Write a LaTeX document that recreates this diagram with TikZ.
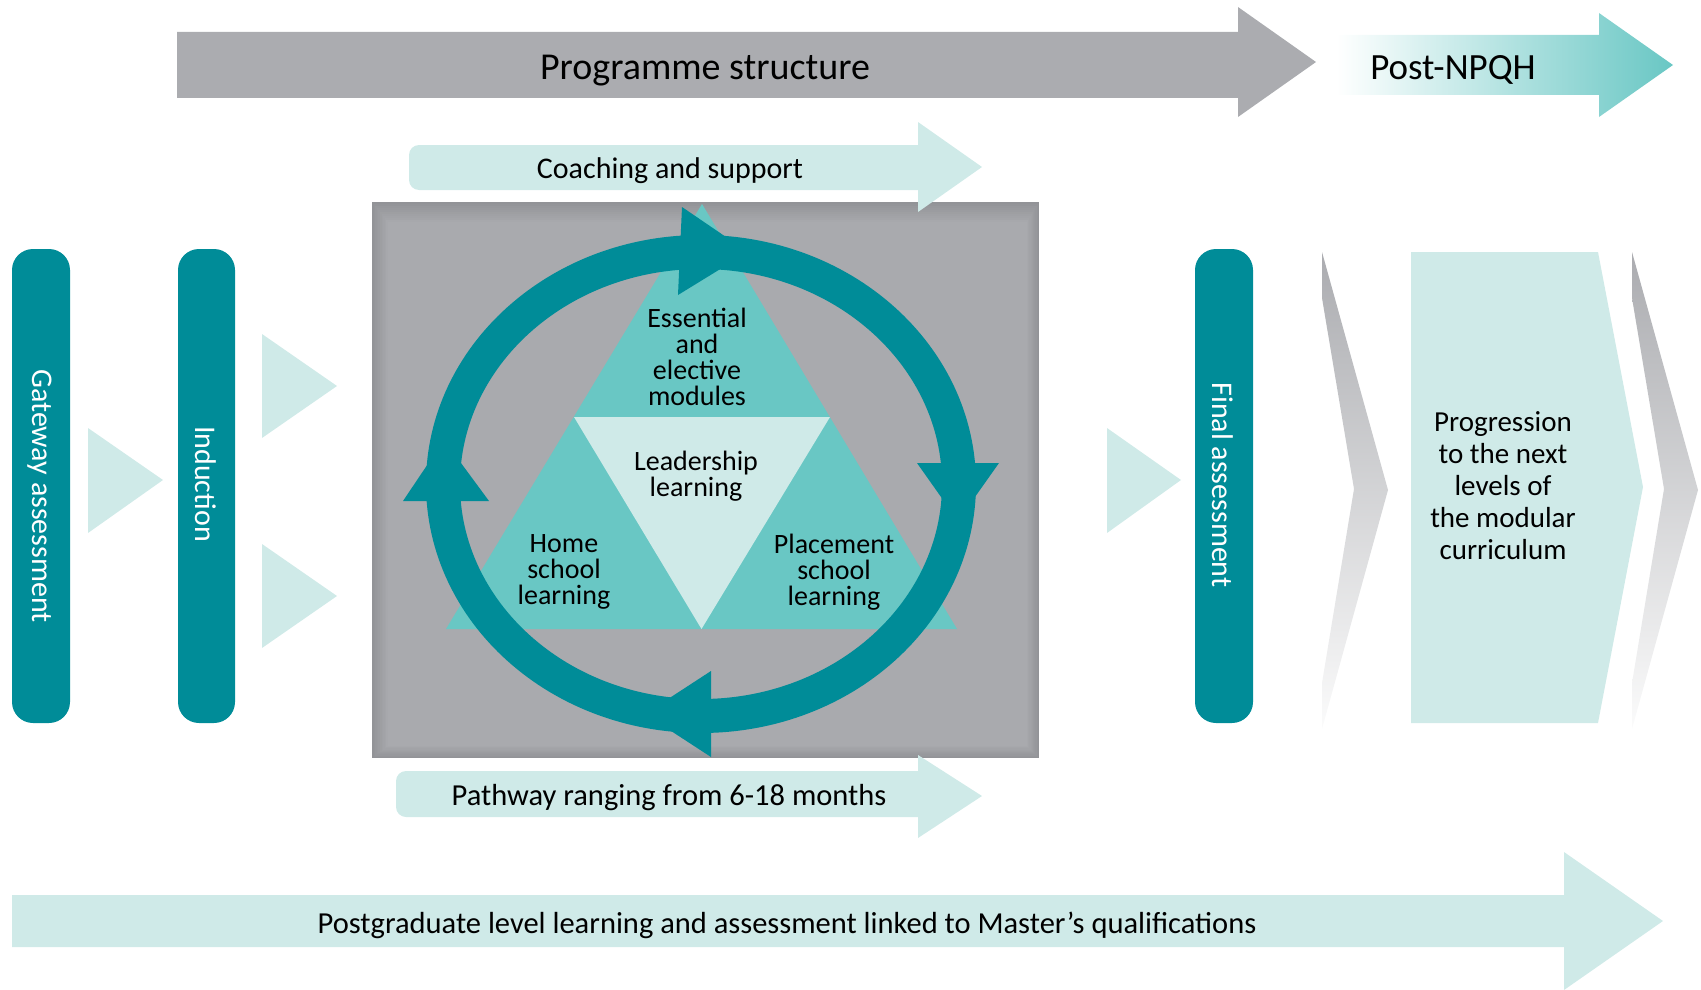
\documentclass[tikz,border=0pt]{standalone}
\usepackage{fontspec}
\setmainfont{Carlito}
\definecolor{tealD}{HTML}{008C98}
\definecolor{tealM}{HTML}{69C7C4}
\definecolor{tealL}{HTML}{CFEAE8}
\definecolor{grayA}{HTML}{ABACB0}
\definecolor{grayB}{HTML}{A9AAAE}
\definecolor{grayE}{HTML}{929397}
\begin{document}
\begin{tikzpicture}[x=1pt,y=-1pt,
  bar/.style={fill=tealD, rounded corners=21pt},
  bartext/.style={text=white, rotate=-90, font=\fontsize{30}{32}\selectfont, inner sep=0pt},
  flow/.style={fill=tealL},
  lbl/.style={text=black, inner sep=0pt},
  inlbl/.style={text=black, align=center, inner sep=0pt, font=\fontsize{28}{26}\selectfont},
  chev/.style={top color=grayA, bottom color=white!95!grayA}
]
\useasboundingbox (0,0) rectangle (1701,990);

% ---------- top arrows ----------
\fill[grayA] (177,32) -- (1238,32) -- (1238,7) -- (1316,62) -- (1238,117) -- (1238,98) -- (177,98) -- cycle;
\node[lbl, anchor=base, font=\fontsize{38}{40}\selectfont] (prog) at (705,80) {Programme structure};

\shade[left color=white, middle color=tealM!80!white, right color=tealM]
  (1336,35) -- (1599,35) -- (1599,13) -- (1673,65) -- (1599,117) -- (1599,95) -- (1336,95) -- cycle;
\node[lbl, anchor=base, font=\fontsize{37}{40}\selectfont] (post) at (1453,80) {Post-NPQH};

% ---------- gray square with vignette ----------
\foreach \i in {0,...,10}{
  \pgfmathsetmacro{\p}{\i*10}
  \fill[grayB!\p!grayE] (372+\i*1.6,202+\i*2) rectangle (1039-\i*1.2,758-\i*1.2);
}

% ---------- coaching arrow ----------
\fill[tealL] (918,145) -- (918,122) -- (982,167) -- (918,212) -- (918,190)
  [rounded corners=10pt] -- (409,190) -- (409,145) [sharp corners] -- cycle;
\node[lbl, anchor=base, font=\fontsize{30}{32}\selectfont] (coach) at (670,178) {Coaching and support};

% ---------- pathway arrow ----------
\fill[tealL] (918,771) -- (918,755) -- (982,796) -- (918,838) -- (918,817)
  [rounded corners=10pt] -- (396,817) -- (396,771) [sharp corners] -- cycle;
\node[lbl, anchor=base, font=\fontsize{30.5}{32}\selectfont] (path) at (669,805) {Pathway ranging from 6-18 months};

% ---------- postgraduate arrow ----------
\fill[tealL] (12,895) -- (1564,895) -- (1564,852) -- (1663,921) -- (1564,990) -- (1564,947) -- (12,947) -- cycle;
\node[lbl, anchor=base, font=\fontsize{30.5}{32}\selectfont] (pg) at (787,933) {Postgraduate level learning and assessment linked to Master’s qualifications};

% ---------- triangle ----------
\fill[tealM] (702,204) -- (957,629) -- (446,629) -- cycle;
\fill[tealL] (574,417) -- (830,417) -- (701.5,629) -- cycle;

% ---------- ring ----------
\draw[tealD, line width=34pt] (701,484) ellipse [x radius=258, y radius=232];
\fill[tealD] (682,207) -- (748,252) -- (678,295) -- cycle;
\fill[tealD] (917,463) -- (999,463) -- (958,521) -- cycle;
\fill[tealD] (711,671) -- (711,757) -- (645,714) -- cycle;
\fill[tealD] (403,501) -- (489,501) -- (444,440) -- cycle;

\node[inlbl] (ess) at (697,357) {Essential\\and\\elective\\modules};
\node[inlbl] (lead) at (696,476) {Leadership\\learning};
\node[inlbl] (home) at (564,572) {Home\\school\\learning};
\node[inlbl] (place) at (834,572) {Placement\\school\\learning};

% ---------- left bars ----------
\fill[bar] (12,249) rectangle (70,723);
\node[bartext] (gate) at (40,496) {Gateway assessment};
\fill[bar] (178,249) rectangle (235,723);
\node[bartext] (ind) at (206,484) {Induction};

\fill[flow] (88,428) -- (163,480) -- (88,533) -- cycle;
\fill[flow] (262,334) -- (337,386) -- (262,438) -- cycle;
\fill[flow] (262,544) -- (337,596) -- (262,648) -- cycle;
\fill[flow] (1107,428) -- (1181,480) -- (1107,533) -- cycle;

% ---------- right side ----------
\fill[bar] (1195,249) rectangle (1253,723);
\node[bartext] (final) at (1223,485) {Final assessment};

\shade[chev] (1322,252) -- (1388,490) -- (1322,729) -- (1322,683) -- (1354,489) -- (1322,298) -- cycle;
\fill[tealL] (1411,252) -- (1598,252) -- (1643,487) -- (1598,723) -- (1411,723) -- cycle;
\node[inlbl, font=\fontsize{29}{32}\selectfont] (progr) at (1503,486) {Progression\\to the next\\levels of\\the modular\\curriculum};
\shade[chev] (1632,252) -- (1698,490) -- (1632,729) -- (1632,683) -- (1664,489) -- (1632,298) -- cycle;
\end{tikzpicture}
\end{document}
